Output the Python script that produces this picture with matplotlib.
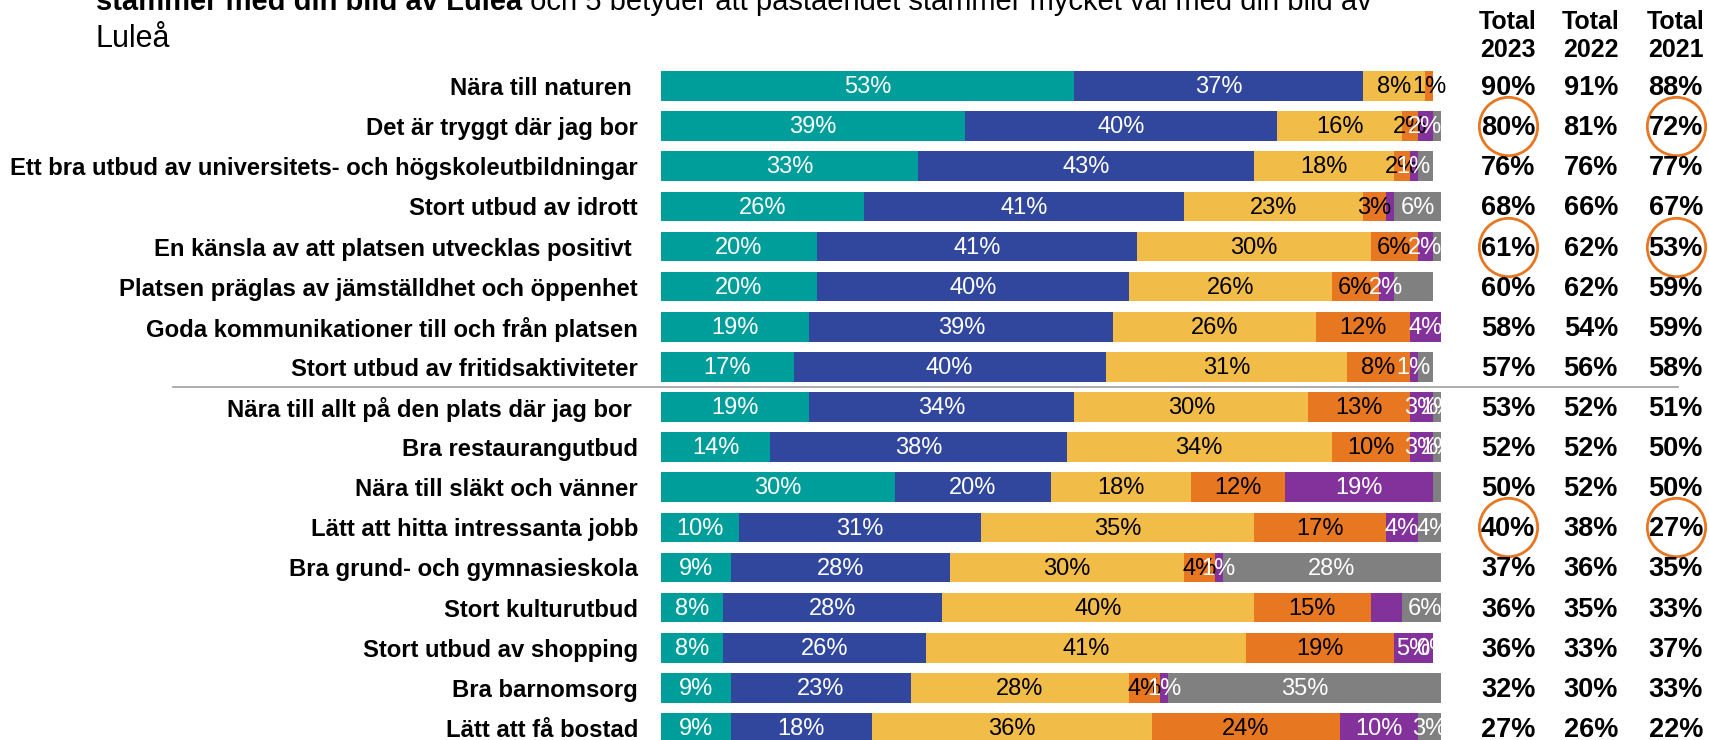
import matplotlib.pyplot as plt

plt.rcParams['font.family'] = ['Liberation Sans', 'DejaVu Sans']

# Statements (top to bottom)
statements = [
    'Nära till naturen ',
    'Det är tryggt där jag bor',
    'Ett bra utbud av universitets- och högskoleutbildningar',
    'Stort utbud av idrott',
    'En känsla av att platsen utvecklas positivt ',
    'Platsen präglas av jämställdhet och öppenhet',
    'Goda kommunikationer till och från platsen',
    'Stort utbud av fritidsaktiviteter',
    'Nära till allt på den plats där jag bor ',
    'Bra restaurangutbud',
    'Nära till släkt och vänner',
    'Lätt att hitta intressanta jobb',
    'Bra grund- och gymnasieskola',
    'Stort kulturutbud',
    'Stort utbud av shopping',
    'Bra barnomsorg',
    'Lätt att få bostad',
]

# Share of answers (%) per grade, 5 = stämmer mycket väl
grade_5 = [53, 39, 33, 26, 20, 20, 19, 17, 19, 14, 30, 10, 9, 8, 8, 9, 9]
grade_4 = [37, 40, 43, 41, 41, 40, 39, 40, 34, 38, 20, 31, 28, 28, 26, 23, 18]
grade_3 = [8, 16, 18, 23, 30, 26, 26, 31, 30, 34, 18, 35, 30, 40, 41, 28, 36]
grade_2 = [1, 2, 2, 3, 6, 6, 12, 8, 13, 10, 12, 17, 4, 15, 19, 4, 24]
grade_1 = [0, 2, 1, 1, 2, 2, 4, 1, 3, 3, 19, 4, 1, 4, 5, 1, 10]
dont_know = [0, 1, 2, 6, 1, 5, 1, 2, 1, 1, 1, 4, 28, 6, 0, 35, 3]

# labels not shown in the original (row, segment)
hidden = [(0, 4), (0, 5), (1, 5), (2, 5), (3, 4), (4, 5), (5, 5),
          (6, 5), (7, 5), (10, 5), (13, 4)]

# Top-2-box totals per year
years = ['2023', '2022', '2021']
total_2023 = [90, 80, 76, 68, 61, 60, 58, 57, 53, 52, 50, 40, 37, 36, 36, 32, 27]
total_2022 = [91, 81, 76, 66, 62, 62, 54, 56, 52, 52, 52, 38, 36, 35, 33, 30, 26]
total_2021 = [88, 72, 77, 67, 53, 59, 59, 58, 51, 50, 50, 27, 35, 33, 37, 33, 22]
circled_rows = [1, 4, 11]

segments = [grade_5, grade_4, grade_3, grade_2, grade_1, dont_know]
colors = ['#009E9A', '#31479E', '#F2BC48', '#E87722', '#84329B', '#808080']
text_colors = ['white', 'white', 'black', 'black', 'white', 'white']

W, H = 1709, 740
fig = plt.figure(figsize=(W / 100, H / 100), dpi=100)
ax = fig.add_axes([661 / W, -8 / H, 780 / W, 682 / H])

rows = list(range(len(statements)))
left = [0] * len(statements)
for s, (vals, col) in enumerate(zip(segments, colors)):
    ax.barh(rows, vals, left=left, height=0.74, color=col, linewidth=0)
    for r, v in enumerate(vals):
        if (r, s) not in hidden:
            ax.text(left[r] + v / 2, r + 0.03, f'{v}%', ha='center', va='center',
                    fontsize=17, color=text_colors[s])
    left = [a + b for a, b in zip(left, vals)]

ax.set_xlim(0, 100)
ax.set_ylim(len(statements) - 0.5, -0.5)
ax.set_yticks(rows, statements, fontsize=17.2, fontweight='bold')
ax.tick_params(axis='y', length=0, pad=16.5)
ax.set_xticks([])
for sp in ax.spines.values():
    sp.set_visible(False)

# separator line
tr = ax.get_yaxis_transform()
ax.plot([-0.626, 1.304], [7.5, 7.5], transform=tr, color='#A6A6A6', lw=1.3, clip_on=False)

# totals columns
col_x = [1.086, 1.192, 1.301]
for x, yr, tot in zip(col_x, years, [total_2023, total_2022, total_2021]):
    ax.text(x, -1.25, f'Total\n{yr}', transform=tr, ha='center', va='center',
            fontsize=18, fontweight='bold', linespacing=1.2)
    for r, v in enumerate(tot):
        ax.text(x, r + 0.05, f'{v}%', transform=tr, ha='center', va='center',
                fontsize=19.5, fontweight='bold')

for r in circled_rows:
    for x in (col_x[0], col_x[2]):
        ax.plot([x], [r], transform=tr, marker='o', ms=42, mfc='none',
                mec='#E87722', mew=2, clip_on=False)

# heading (cut at the top in the original)
t1 = fig.text(96 / W, 1 - 10 / H, 'stämmer med din bild av Luleå', fontsize=21,
              fontweight='bold', va='baseline', ha='left')
ax.annotate(' och 5 betyder att påståendet stämmer mycket väl med din bild av',
            xy=(1, 0), xycoords=t1, va='bottom', ha='left', fontsize=21,
            annotation_clip=False)
fig.text(96 / W, 1 - 47 / H, 'Luleå', fontsize=22, va='baseline', ha='left')

fig.savefig('out.png', dpi=100)
